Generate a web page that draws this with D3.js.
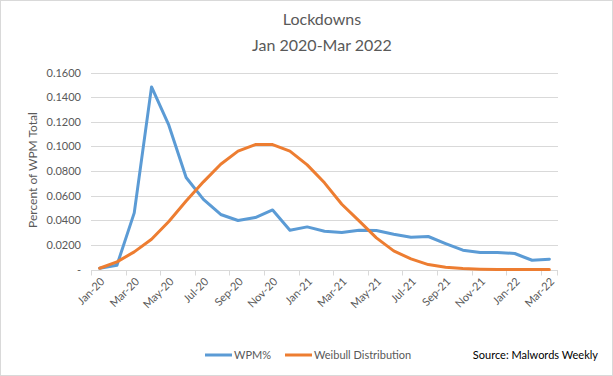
<!DOCTYPE html>
<html>
<head>
<meta charset="utf-8">
<script src="https://cdn.jsdelivr.net/npm/d3@7"></script>
<style>
  body { margin: 0; background: #fff; }
  svg { display: block; font-family: Lato, "Open Sans", sans-serif; }
</style>
</head>
<body>
<div id="chart"></div>
<script>
// Months Jan 2020 - Mar 2022
var months = ["Jan-20","Feb-20","Mar-20","Apr-20","May-20","Jun-20","Jul-20","Aug-20","Sep-20","Oct-20","Nov-20","Dec-20",
              "Jan-21","Feb-21","Mar-21","Apr-21","May-21","Jun-21","Jul-21","Aug-21","Sep-21","Oct-21","Nov-21","Dec-21",
              "Jan-22","Feb-22","Mar-22"]
var wpm = [0.0010, 0.0035, 0.0460, 0.1483, 0.1172, 0.0747, 0.0570, 0.0447, 0.0398, 0.0422, 0.0484, 0.0319,
           0.0346, 0.0311, 0.0300, 0.0319, 0.0316, 0.0287, 0.0262, 0.0268, 0.0211, 0.0157, 0.0138, 0.0138,
           0.0130, 0.0075, 0.0084]
var weibull = [0.0010, 0.0062, 0.0143, 0.0246, 0.0390, 0.0557, 0.0712, 0.0855, 0.0961, 0.1015, 0.1015, 0.0961,
               0.0850, 0.0704, 0.0530, 0.0395, 0.0257, 0.0151, 0.0086, 0.0040, 0.0019, 0.0008, 0.0003, 0.0001,
               0.0000, 0.0000, 0.0000]
var yTicks = [0, 0.02, 0.04, 0.06, 0.08, 0.10, 0.12, 0.14, 0.16]
var seriesNames = ["WPM%", "Weibull Distribution"]
var colors = ["#5B9BD5", "#ED7D31"]

var width = 613
var height = 376
var textColor = "#595959"

var svg = d3.select('#chart')
            .append('svg')
            .attr('width', width)
            .attr('height', height)

// chart border
svg.append('rect')
    .attr('x', 0.5).attr('y', 0.5)
    .attr('width', width - 1).attr('height', height - 1)
    .attr('fill', '#fff')
    .attr('stroke', '#d9d9d9')

// Title
svg.append('text')
    .attr('x', 322).attr('y', 25)
    .attr('text-anchor', 'middle')
    .attr('fill', textColor)
    .style('font-size', '16px')
    .text('Lockdowns')
svg.append('text')
    .attr('x', 322).attr('y', 51)
    .attr('text-anchor', 'middle')
    .attr('fill', textColor)
    .style('font-size', '16px')
    .text('Jan 2020-Mar 2022')

// Scales
var xScale = d3.scaleBand()
                .domain(months)
                .range([91, 558])
                .padding(0)
var yScale = d3.scaleLinear()
                .domain([0, 0.16])
                .range([269.5, 72.5])

// gridlines
svg.append('g')
    .selectAll('line')
    .data(yTicks.slice(1))
    .join('line')
    .attr('x1', 91).attr('x2', 558)
    .attr('y1', d => Math.round(yScale(d)) + 0.5)
    .attr('y2', d => Math.round(yScale(d)) + 0.5)
    .attr('stroke', '#d9d9d9')

// y axis labels
var yAxis = d3.axisLeft(yScale)
                .tickValues(yTicks)
                .tickSize(0)
                .tickPadding(10)
                .tickFormat(d => d === 0 ? "-" : d3.format(".4f")(d))
var yG = svg.append('g')
    .attr('transform', 'translate(91,0)')
    .call(yAxis)
yG.select('.domain').remove()
yG.selectAll('text')
    .attr('fill', textColor)
    .style('font-size', '11px')
    .style('font-family', 'Lato, sans-serif')

// x axis line + ticks every two months
var baseY = Math.round(yScale(0)) + 0.5
svg.append('line')
    .attr('x1', 91).attr('x2', 558)
    .attr('y1', baseY).attr('y2', baseY)
    .attr('stroke', '#d9d9d9')
var tickMonths = months.filter((d, i) => i % 2 === 0)
svg.append('g')
    .selectAll('line')
    .data(tickMonths)
    .join('line')
    .attr('x1', d => Math.round(xScale(d)) + 0.5)
    .attr('x2', d => Math.round(xScale(d)) + 0.5)
    .attr('y1', baseY).attr('y2', baseY + 5)
    .attr('stroke', '#d9d9d9')
svg.append('line')
    .attr('x1', 557.5).attr('x2', 557.5)
    .attr('y1', baseY).attr('y2', baseY + 5)
    .attr('stroke', '#d9d9d9')

// x labels, rotated
svg.append('g')
    .selectAll('text')
    .data(tickMonths)
    .join('text')
    .attr('transform', d => `translate(${xScale(d) + xScale.bandwidth() / 2 + 3},${baseY + 9})rotate(-45)`)
    .attr('text-anchor', 'end')
    .attr('dy', '0.35em')
    .attr('fill', textColor)
    .style('font-size', '11px')
    .text(d => d)

// y axis title
svg.append('text')
    .attr('transform', 'translate(37,170)rotate(-90)')
    .attr('text-anchor', 'middle')
    .attr('fill', textColor)
    .style('font-size', '12px')
    .text('Percent of WPM Total')

// lines
var line = d3.line()
    .x((d, i) => xScale(months[i]) + xScale.bandwidth() / 2)
    .y(d => yScale(d))

;[wpm, weibull].forEach((s, i) => {
    svg.append('path')
        .datum(s)
        .attr('d', line)
        .attr('fill', 'none')
        .attr('stroke', colors[i])
        .attr('stroke-width', 3)
        .attr('stroke-linejoin', 'round')
        .attr('stroke-linecap', 'round')
})

// legend
var legendX = [205, 285]
seriesNames.forEach((s, i) => {
    var g = svg.append('g')
        .attr('transform', `translate(${legendX[i]}, 355)`)
    g.append('line')
        .attr('x1', 0).attr('x2', 27)
        .attr('stroke', colors[i])
        .attr('stroke-width', 3)
    g.append('text')
        .attr('x', 29)
        .attr('dy', '0.35em')
        .attr('fill', textColor)
        .style('font-size', '11px')
        .text(s)
})

svg.append('text')
    .attr('x', 598).attr('y', 355)
    .attr('dy', '0.35em')
    .attr('text-anchor', 'end')
    .attr('fill', '#000')
    .style('font-size', '11px')
    .text('Source: Malwords Weekly')
</script>
</body>
</html>
